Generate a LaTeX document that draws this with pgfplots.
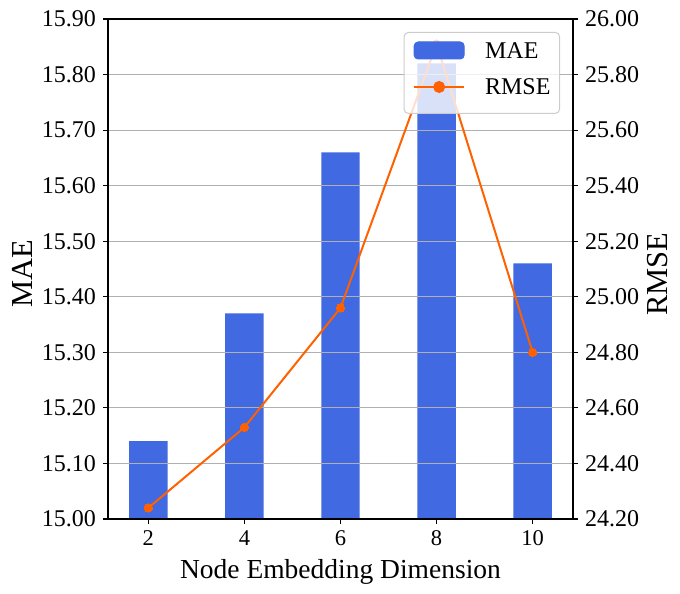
\documentclass[border=0pt]{standalone}
\usepackage{fontspec}
\setmainfont{Liberation Serif}
\usepackage{pgfplots}
\pgfplotsset{compat=1.18}
\definecolor{royal}{HTML}{4169E1}
\definecolor{rmsec}{HTML}{FF6000}
\definecolor{gridc}{HTML}{B0B0B0}
\definecolor{legc}{HTML}{CCCCCC}
\pgfplotsset{
  common/.style={
    at={(108pt,75pt)}, anchor=south west,
    scale only axis, width=465pt, height=500pt,
    xmin=1.16, xmax=10.84,
    tick align=outside, major tick length=5pt,
    axis line style={line width=1.1pt, black},
    major tick style={line width=1.1pt, black},
    /pgf/number format/assume math mode=true,
  }
}
\begin{document}
\begin{tikzpicture}
\useasboundingbox (0,0) rectangle (680pt,594pt);
\begin{axis}[common,
  axis on top,
  ymin=15, ymax=15.9,
  xtick={2,4,6,8,10}, xtick pos=bottom, ytick pos=left,
  ytick={15.0,15.1,15.2,15.3,15.4,15.5,15.6,15.7,15.8,15.9},
  yticklabel={\rmfamily\pgfmathprintnumber[fixed, fixed zerofill, precision=2, assume math mode=true]{\tick}},
  xticklabel={\rmfamily\pgfmathprintnumber[assume math mode=true]{\tick}},
  yticklabel style={font=\rmfamily\fontsize{24}{28}\selectfont, inner sep=0pt, anchor=east, xshift=-7pt},
  xticklabel style={font=\rmfamily\fontsize{22.5}{26}\selectfont, inner sep=0pt, text height=15pt, text depth=0pt, anchor=north, yshift=-6pt},
  ymajorgrids, grid style={gridc, line width=1.1pt},
  xlabel={Node Embedding Dimension},
  xlabel style={font=\fontsize{27.5}{32}\selectfont, at={(axis description cs:0.5,0)}, anchor=base, inner sep=0pt, yshift=-60pt},
  ylabel={MAE},
  ylabel style={font=\fontsize{30.5}{35}\selectfont, at={([xshift=-85.5pt, yshift=-5pt]axis description cs:0,0.5)}, anchor=center, inner sep=0pt, text height=20pt, text depth=0pt},
]
\addplot[ybar, bar width=0.8, bar shift=0pt, fill=royal, draw=none]
  coordinates {(2,15.14) (4,15.37) (6,15.66) (8,15.82) (10,15.46)};
\end{axis}
\begin{axis}[common,
  ymin=24.2, ymax=26.0,
  axis y line*=right, axis x line=none,
  ytick={24.2,24.4,24.6,24.8,25.0,25.2,25.4,25.6,25.8,26.0},
  yticklabel={\rmfamily\pgfmathprintnumber[fixed, fixed zerofill, precision=2, assume math mode=true]{\tick}},
  yticklabel style={font=\rmfamily\fontsize{24}{28}\selectfont, inner sep=0pt, anchor=west, xshift=7pt},
  ylabel={RMSE},
  ylabel style={font=\fontsize{30.5}{35}\selectfont, at={([xshift=84pt, yshift=-5pt]axis description cs:1,0.5)}, anchor=center, inner sep=0pt, text height=20pt, text depth=0pt},
  legend style={at={(1,1)}, anchor=north east, xshift=-13pt, yshift=-13pt,
    fill=white, fill opacity=0.8, text opacity=1, draw opacity=1, draw=legc, line width=1pt, rounded corners=4pt,
    font=\fontsize{24}{28}\selectfont,
    nodes={inner sep=0pt, text height=16pt, text depth=0pt},
    inner xsep=9pt, inner ysep=9pt, row sep=19.5pt, column sep=20pt},
  legend cell align=left,
]
\addlegendimage{legend image code/.code={\fill[royal, fill opacity=1] (0pt,-8.5pt) rectangle (50pt,8.5pt);}}
\addlegendentry{MAE}
\addplot[rmsec, line width=2pt, mark=*, mark size=4.2pt, mark options={fill=rmsec, draw=rmsec, line width=0pt},
  legend image code/.code={\draw[rmsec, line width=2pt, draw opacity=1] (0pt,0pt) -- (50pt,0pt); \fill[rmsec, fill opacity=1] (25pt,0pt) circle (5pt); \path (0pt,-16.3pt);}]
  coordinates {(2,24.24) (4,24.53) (6,24.96) (8,25.91) (10,24.80)};
\addlegendentry{RMSE}
\end{axis}
\end{tikzpicture}
\end{document}
